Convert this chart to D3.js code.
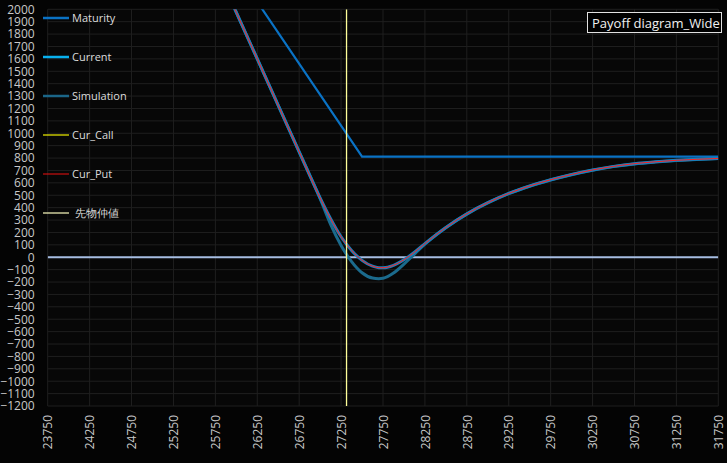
<!DOCTYPE html>
<html><head><meta charset="utf-8">
<script src="https://cdn.jsdelivr.net/npm/d3@7"></script>
<style>html,body{margin:0;padding:0;background:#040404;overflow:hidden}</style>
</head><body>
<svg id="c" width="727" height="463"></svg>
<script>
// ---- data ----
const xTicks = [23750,24250,24750,25250,25750,26250,26750,27250,27750,28250,28750,29250,29750,30250,30750,31250,31750];
const yTicks = d3.range(-1200, 2001, 100);
const priceS = [25750,26000,26250,26500,26750,27000,27125,27250,27375,27500,27625,27700,27750,27875,28000,28125,28250,28500,28750,29000,29250,29500,29750,30000,30250,30500,30750,31000,31250,31500,31750];
const currentV = [2350,1975,1600,1225,850,478,310,165,55,-25,-72,-84,-85,-65,-20,40,110,240,350,440,515,575,625,668,704,733,755,770,782,790,797];
const simulationV = [2350,1975,1600,1225,850,472,265,95,-35,-125,-168,-173,-170,-128,-55,25,105,238,348,438,513,573,623,666,702,731,753,768,780,789,796];
const curPutV = currentV;
const maturityS = [25750,27500,31750];
const maturityV = [2560,812,812];
const futuresMid = 27315;
const legendNames = ["Maturity","Current","Simulation","Cur_Call","Cur_Put"," 先物仲値"];
const legendColors = ["#0a72c4","#08b0ee","#1b6688","#f2f200","#cc1010","#fdfdc0"];
const legendWidths = [2.5,2.5,2.5,1.2,1.2,1.2];
const title = "Payoff diagram_Wide";

// ---- chart ----
const svg = d3.select("#c");
const L = 47.7, R = 718.3, T = 9.3, B = 406;
const x = d3.scaleLinear().domain([23750,31750]).range([L,R]);
const y = d3.scaleLinear().domain([-1200,2000]).range([B,T]);

svg.append("rect").attr("x",L).attr("y",T).attr("width",R-L).attr("height",B-T).attr("fill","#070707");

const grid = svg.append("g");
grid.selectAll("line.h").data(yTicks).join("line")
  .attr("x1",L).attr("x2",R).attr("y1",d=>y(d)).attr("y2",d=>y(d))
  .attr("stroke","#1f1f1f").attr("stroke-width",1);
grid.selectAll("line.v").data(xTicks).join("line")
  .attr("y1",T).attr("y2",B).attr("x1",d=>x(d)).attr("x2",d=>x(d))
  .attr("stroke","#1f1f1f").attr("stroke-width",1);

const font = "'Open Sans', sans-serif";
const yAxis = d3.axisLeft(y).tickValues(yTicks).tickSize(0).tickPadding(13).tickFormat(d3.format("d"));
const gy = svg.append("g").attr("transform",`translate(${L},0)`).call(yAxis);
gy.select(".domain").remove();
gy.selectAll("text").attr("fill","#c8c8c8").style("font-family",font).style("font-size","12px");

const xAxis = d3.axisBottom(x).tickValues(xTicks).tickSize(0).tickFormat(d3.format("d"));
const gx = svg.append("g").attr("transform",`translate(0,${B})`).call(xAxis);
gx.select(".domain").remove();
gx.selectAll("text").attr("fill","#c8c8c8").style("font-family",font).style("font-size","12px")
  .attr("transform","rotate(-90)").attr("text-anchor","end").attr("x",-9).attr("y",0).attr("dy","0.35em");

svg.append("clipPath").attr("id","clip").append("rect").attr("x",L).attr("y",T).attr("width",R-L).attr("height",B-T);
const plot = svg.append("g").attr("clip-path","url(#clip)");

// zero line
plot.append("line").attr("x1",L).attr("x2",R).attr("y1",y(0)).attr("y2",y(0))
  .attr("stroke","#a6bde2").attr("stroke-width",2);

const line = d3.line().x(d=>x(d[0])).y(d=>y(d[1]));
const curve = d3.line().x(d=>x(d[0])).y(d=>y(d[1])).curve(d3.curveMonotoneX);

plot.append("path").datum(d3.zip(maturityS,maturityV)).attr("d",line)
  .attr("fill","none").attr("stroke",legendColors[0]).attr("stroke-width",2.2);
plot.append("path").datum(d3.zip(priceS,simulationV)).attr("d",curve)
  .attr("fill","none").attr("stroke","#1b6a8c").attr("stroke-width",3);
plot.append("path").datum(d3.zip(priceS,currentV)).attr("d",curve)
  .attr("fill","none").attr("stroke","#1880bd").attr("stroke-width",3);
plot.append("path").datum(d3.zip(priceS,curPutV)).attr("d",curve)
  .attr("fill","none").attr("stroke","#ff2020").attr("stroke-width",1);
plot.append("line").attr("x1",x(futuresMid)).attr("x2",x(futuresMid)).attr("y1",T).attr("y2",B)
  .attr("stroke","#ffff9a").attr("stroke-width",1.3);

// legend
const lg = svg.append("g");
legendNames.forEach((n,i)=>{
  const yy = 18 + i*39;
  lg.append("line").attr("x1",43).attr("x2",69).attr("y1",yy).attr("y2",yy)
    .attr("stroke",legendColors[i]).attr("stroke-width",legendWidths[i]);
  lg.append("text").attr("x",72).attr("y",yy).attr("dy","0.35em").text(n)
    .attr("fill","#dcdcdc").style("font-family",font).style("font-size","11px").style("white-space","pre")
    .attr("xml:space","preserve");
});

// title box
svg.append("rect").attr("x",587.5).attr("y",12.5).attr("width",134).attr("height",20)
  .attr("fill","#000").attr("stroke","#e0e0e0").attr("stroke-width",1);
svg.append("text").attr("x",592).attr("y",23).attr("dy","0.35em").text(title)
  .attr("fill","#f0f0f0").style("font-family",font).style("font-size","13px");
</script>
</body></html>
